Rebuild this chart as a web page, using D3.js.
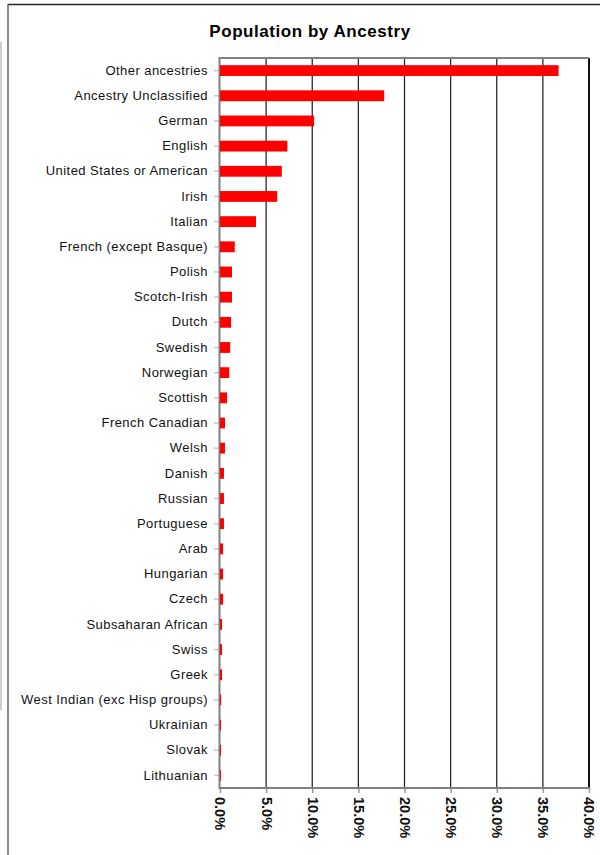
<!DOCTYPE html>
<html>
<head>
<meta charset="utf-8">
<script src="https://cdn.jsdelivr.net/npm/d3@7"></script>
<style>
  body { margin: 0; background: #fff; }
  svg { display: block; font-family: "Liberation Sans", Arial, sans-serif; }
</style>
</head>
<body>
<svg id="chart" width="600" height="855"></svg>
<script>
const categories = [
  "Other ancestries", "Ancestry Unclassified", "German", "English",
  "United States or American", "Irish", "Italian", "French (except Basque)",
  "Polish", "Scotch-Irish", "Dutch", "Swedish", "Norwegian", "Scottish",
  "French Canadian", "Welsh", "Danish", "Russian", "Portuguese", "Arab",
  "Hungarian", "Czech", "Subsaharan African", "Swiss", "Greek",
  "West Indian (exc Hisp groups)", "Ukrainian", "Slovak", "Lithuanian"
];
const shares = [
  36.7, 17.8, 10.2, 7.3, 6.7, 6.2, 3.9, 1.6, 1.3, 1.3, 1.2, 1.1, 1.0, 0.76,
  0.54, 0.54, 0.43, 0.43, 0.43, 0.33, 0.33, 0.33, 0.22, 0.22, 0.22,
  0.12, 0.11, 0.11, 0.1
];
const tickValues = [0, 5, 10, 15, 20, 25, 30, 35, 40];

const svg = d3.select("#chart");

// outer frame
svg.append("line").attr("x1", 8).attr("x2", 600).attr("y1", 4.5).attr("y2", 4.5)
  .attr("stroke", "#222").attr("stroke-width", 1.5);
svg.append("line").attr("x1", 8).attr("x2", 8).attr("y1", 4).attr("y2", 855)
  .attr("stroke", "#666").attr("stroke-width", 1.5);
svg.append("rect").attr("x", 0).attr("y", 42).attr("width", 2).attr("height", 668)
  .attr("fill", "#d0d0d0");

const plotLeft = 220, plotRight = 589, plotTop = 58, plotBottom = 788;

const x = d3.scaleLinear().domain([0, 40]).range([plotLeft, plotRight]);
const y = d3.scaleBand().domain(categories).range([plotTop, plotBottom])
  .paddingInner(0.57).paddingOuter(0.285);

svg.append("text")
  .attr("x", 310).attr("y", 37)
  .attr("text-anchor", "middle")
  .attr("font-size", 17).attr("font-weight", "bold")
  .attr("letter-spacing", 0.55)
  .text("Population by Ancestry");

// gridlines
svg.append("g").selectAll("line")
  .data(tickValues.slice(1))
  .join("line")
  .attr("x1", d => x(d)).attr("x2", d => x(d))
  .attr("y1", plotTop).attr("y2", plotBottom)
  .attr("stroke", d => d === 40 ? "#111" : "#2a2a2a")
  .attr("stroke-width", d => d === 40 ? 2 : 1.3);

// plot border top
svg.append("line").attr("x1", plotLeft).attr("x2", plotRight).attr("y1", plotTop).attr("y2", plotTop)
  .attr("stroke", "#808080").attr("stroke-width", 2);

// y axis
const yAxis = svg.append("g")
  .attr("transform", `translate(${plotLeft},0)`)
  .call(d3.axisLeft(y).tickSize(6).tickPadding(6));
yAxis.select(".domain").remove();
yAxis.selectAll(".tick line").attr("stroke", "#c8c8c8").attr("stroke-width", 1.5);
yAxis.selectAll(".tick text").attr("font-size", 13).attr("fill", "#111")
  .attr("letter-spacing", 0.45)
  .attr("font-family", "'Liberation Sans', Arial, sans-serif");
svg.append("line").attr("x1", plotLeft - 0.5).attr("x2", plotLeft - 0.5).attr("y1", plotTop - 1).attr("y2", plotBottom + 1)
  .attr("stroke", "#808080").attr("stroke-width", 2);

// bars
svg.append("g").selectAll("rect")
  .data(categories)
  .join("rect")
  .attr("x", plotLeft)
  .attr("y", d => y(d))
  .attr("width", (d, i) => x(shares[i]) - plotLeft)
  .attr("height", y.bandwidth())
  .attr("fill", "#ff0000");

// x axis
const xAxis = svg.append("g")
  .attr("transform", `translate(0,${plotBottom})`)
  .call(d3.axisBottom(x).tickValues(tickValues).tickSize(5)
    .tickFormat(d => d3.format(".1f")(d) + "%"));
xAxis.select(".domain").remove();
xAxis.selectAll(".tick line").attr("stroke", "#999").attr("stroke-width", 1.5);
xAxis.selectAll(".tick text")
  .attr("font-size", 14.5).attr("font-weight", "bold").attr("fill", "#111")
  .attr("font-family", "'Liberation Sans', Arial, sans-serif")
  .attr("text-anchor", "start")
  .attr("transform", "rotate(90)")
  .attr("x", 9).attr("y", 0).attr("dy", "0.35em");
svg.append("line").attr("x1", plotLeft - 1).attr("x2", plotRight + 1).attr("y1", plotBottom).attr("y2", plotBottom)
  .attr("stroke", "#808080").attr("stroke-width", 2);
</script>
</body>
</html>
